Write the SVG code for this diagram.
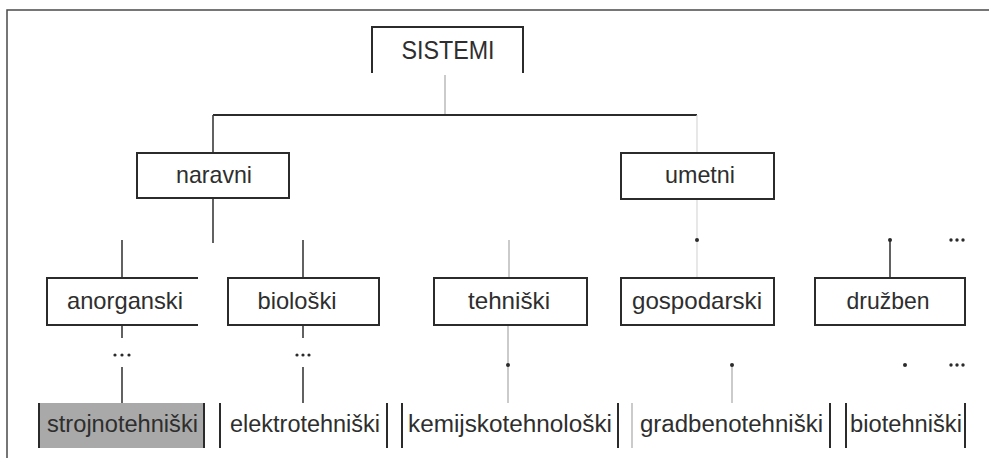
<svg xmlns="http://www.w3.org/2000/svg" width="989" height="458" viewBox="0 0 989 458">
  <style>
    .box { fill: #ffffff; stroke: #2b2b2b; stroke-width: 2; }
    .edge { fill: none; stroke: #2b2b2b; stroke-width: 2; }
    .dark { fill: none; stroke: #3a3a3a; stroke-width: 1.6; }
    .light { fill: none; stroke: #a8a8a8; stroke-width: 1.2; }
    .faint { fill: none; stroke: #d8d8d8; stroke-width: 1.2; }
    .frame { fill: none; stroke: #4a4a4a; stroke-width: 1.5; }
    .dot { fill: #2b2b2b; }
    text { font-family: "Liberation Sans", Arial, sans-serif; fill: #2e2e2e; text-anchor: middle; }
    .t1 { font-size: 24px; }
    .t2 { font-size: 23px; }
    .top { font-size: 26px; }
  </style>

  <!-- outer frame -->
  <path class="frame" d="M7,458 V10 H989"/>

  <!-- connectors -->
  <g id="connectors">
    <line class="light" x1="445" y1="75" x2="445" y2="115"/>
    <line class="edge" x1="213" y1="115" x2="697" y2="115"/>
    <line class="dark" x1="213" y1="115" x2="213" y2="153"/>
    <line class="faint" x1="697" y1="115" x2="697" y2="153"/>
    <!-- naravni children -->
    <line class="dark" x1="213" y1="198" x2="213" y2="243"/>
    <line class="dark" x1="122" y1="240" x2="122" y2="278"/>
    <line class="dark" x1="303" y1="240" x2="303" y2="278"/>
    <!-- umetni children -->
    <line class="faint" x1="697" y1="199" x2="697" y2="278"/>
    <circle class="dot" cx="697" cy="240" r="2"/>
    <line class="light" x1="509" y1="240" x2="509" y2="278"/>
    <line class="dark" x1="890" y1="240" x2="890" y2="278"/>
    <circle class="dot" cx="890" cy="240" r="2"/>
    <circle class="dot" cx="951" cy="240" r="1.7"/>
    <circle class="dot" cx="957" cy="240" r="1.7"/>
    <circle class="dot" cx="963" cy="240" r="1.7"/>
    <!-- anorganski to strojnotehniski -->
    <line class="dark" x1="122" y1="325" x2="122" y2="338"/>
    <circle class="dot" cx="115" cy="355" r="1.6"/>
    <circle class="dot" cx="122" cy="355" r="1.6"/>
    <circle class="dot" cx="129" cy="355" r="1.6"/>
    <line class="dark" x1="122" y1="367" x2="122" y2="403"/>
    <!-- bioloski to elektrotehniski -->
    <line class="dark" x1="303" y1="325" x2="303" y2="338"/>
    <circle class="dot" cx="297" cy="355" r="1.6"/>
    <circle class="dot" cx="303" cy="355" r="1.6"/>
    <circle class="dot" cx="309" cy="355" r="1.6"/>
    <line class="dark" x1="303" y1="367" x2="303" y2="403"/>
    <!-- tehniski to kemijskotehnoloski -->
    <line class="light" x1="508" y1="325" x2="508" y2="403"/>
    <circle class="dot" cx="508" cy="365" r="2"/>
    <!-- gospodarski to gradbenotehniski -->
    <line class="light" x1="732" y1="365" x2="732" y2="403"/>
    <circle class="dot" cx="732" cy="365" r="2"/>
    <!-- druzben -->
    <circle class="dot" cx="905" cy="365" r="2"/>
    <circle class="dot" cx="951" cy="365" r="1.7"/>
    <circle class="dot" cx="957" cy="365" r="1.7"/>
    <circle class="dot" cx="963" cy="365" r="1.7"/>
  </g>

  <!-- root -->
  <g id="sistemi">
    <path class="edge" d="M372,73 V27 H523 V73"/>
    <text class="top" x="448" y="59" textLength="93" lengthAdjust="spacingAndGlyphs">SISTEMI</text>
  </g>

  <!-- first level -->
  <g id="naravni">
    <rect class="box" x="137" y="153" width="152" height="45"/>
    <text class="t1" x="214" y="183" textLength="76" lengthAdjust="spacingAndGlyphs">naravni</text>
  </g>
  <g id="umetni">
    <rect class="box" x="621" y="153" width="153" height="46"/>
    <text class="t1" x="700" y="183" textLength="70" lengthAdjust="spacingAndGlyphs">umetni</text>
  </g>

  <!-- second level -->
  <g id="anorganski">
    <path class="edge" d="M198,278 H47 V325 H198"/>
    <text class="t1" x="125" y="309" textLength="116" lengthAdjust="spacingAndGlyphs">anorganski</text>
  </g>
  <g id="bioloski">
    <rect class="box" x="228" y="278" width="151" height="47"/>
    <text class="t1" x="297" y="309" textLength="79" lengthAdjust="spacingAndGlyphs">biološki</text>
  </g>
  <g id="tehniski">
    <rect class="box" x="434" y="278" width="153" height="47"/>
    <text class="t1" x="509" y="309" textLength="82" lengthAdjust="spacingAndGlyphs">tehniški</text>
  </g>
  <g id="gospodarski">
    <rect class="box" x="621" y="278" width="153" height="47"/>
    <text class="t1" x="697" y="309" textLength="130" lengthAdjust="spacingAndGlyphs">gospodarski</text>
  </g>
  <g id="druzben">
    <rect class="box" x="815" y="278" width="150" height="47"/>
    <text class="t1" x="888" y="309" textLength="83" lengthAdjust="spacingAndGlyphs">družben</text>
  </g>

  <!-- third level -->
  <g id="strojnotehniski">
    <rect x="39" y="403" width="165" height="45" fill="#a9a9a9"/>
    <line class="edge" x1="39" y1="403" x2="39" y2="448"/>
    <line class="edge" x1="204" y1="403" x2="204" y2="448"/>
    <text class="t2" x="122.5" y="432" textLength="151" lengthAdjust="spacingAndGlyphs">strojnotehniški</text>
  </g>
  <g id="elektrotehniski">
    <line class="edge" x1="220" y1="403" x2="220" y2="448"/>
    <line class="edge" x1="387" y1="403" x2="387" y2="448"/>
    <text class="t2" x="305" y="432" textLength="150" lengthAdjust="spacingAndGlyphs" fill="#555">elektrotehniški</text>
  </g>
  <g id="kemijskotehnoloski">
    <line class="edge" x1="402" y1="403" x2="402" y2="448"/>
    <line class="edge" x1="618" y1="403" x2="618" y2="448"/>
    <text class="t2" x="510" y="432" textLength="204" lengthAdjust="spacingAndGlyphs" fill="#555">kemijskotehnološki</text>
  </g>
  <g id="gradbenotehniski">
    <line class="light" x1="632" y1="403" x2="632" y2="448"/>
    <line class="edge" x1="830" y1="403" x2="830" y2="448"/>
    <text class="t2" x="731.5" y="432" textLength="183" lengthAdjust="spacingAndGlyphs" fill="#555">gradbenotehniški</text>
  </g>
  <g id="biotehniski">
    <line class="edge" x1="846" y1="403" x2="846" y2="448"/>
    <line class="edge" x1="965" y1="403" x2="965" y2="448"/>
    <text class="t2" x="906" y="432" textLength="112" lengthAdjust="spacingAndGlyphs" fill="#555">biotehniški</text>
  </g>
</svg>
